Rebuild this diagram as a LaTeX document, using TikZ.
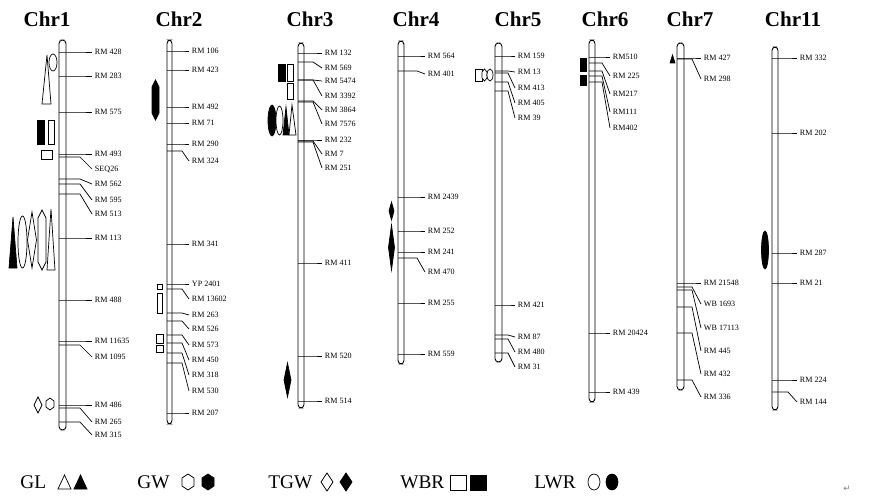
\documentclass[tikz,border=0pt]{standalone}
\usepackage{fontspec}
\setmainfont{Liberation Serif}
\newfontfamily\symfont{DejaVu Sans}
\usetikzlibrary{positioning,fit}

\begin{document}
\begin{tikzpicture}[
        x=0.02cm, y=-0.02cm,
        chrom/.style={draw, rounded corners=2pt, inner sep=0pt, line width=0.5pt},
        title/.style={font=\fontsize{12}{14}\selectfont\bfseries},
        mk/.style={line width=0.4pt},
        lab/.style={anchor=west, inner sep=1.5pt, font=\fontsize{4.6}{5}\selectfont},
        qo/.style={draw, fill=white, line width=0.4pt},
        qf/.style={draw, fill=black, line width=0.4pt},
        leg/.style={anchor=west, inner sep=0pt, font=\fontsize{11}{13}\selectfont}
    ]
        \useasboundingbox (0,0) rectangle (876,500);

        % Chr1
        \node[chrom, fit={(59,40) (66,430)}] (c1) {};
        \node[title] (t1) at (47,19) {Chr1};
        \foreach \a/\b/\t [count=\i] in {52/52/RM 428, 76/76/RM 283, 112/112/RM 575,
            154/154/RM 493, 157/169/SEQ26, 179/184/RM 562, 184/200/RM 595, 194/214/RM 513,
            238/238/RM 113, 300/300/RM 488, 341/341/RM 11635, 345/357/RM 1095,
            405/405/RM 486, 408/422/RM 265, 422/435/RM 315}
            \draw[mk] (59,\a) -- (80,\a) -- (92,\b) node[lab] (c1m\i) {\t};
        \draw[qo] (42,104) -- (47,55) -- (51,104) -- cycle;
        \draw[qo] (53,62.5) ellipse (4 and 8.5);
        \draw[qf] (37,120) rectangle (44,144);
        \draw[qo] (48,120) rectangle (54,144);
        \draw[qo] (41,150) rectangle (52,159);
        \draw[qf] (9,268) -- (13,217) -- (17,268) -- cycle;
        \draw[qo] (22.5,242) ellipse (4.5 and 26);
        \draw[qo] (32,212) -- (36.5,240) -- (32,268) -- (27.5,240) -- cycle;
        \draw[qo] (42,210) -- ++(4,8) -- ++(0,44) -- ++(-4,8) -- ++(-4,-8) -- ++(0,-44) -- cycle;
        \draw[qo] (51,209) -- (55,270) -- (47,270) -- cycle;
        \draw[qo] (38,397) -- (42,405) -- (38,413) -- (34,405) -- cycle;
        \draw[qo] (50,398) -- ++(4,3) -- ++(0,6) -- ++(-4,3) -- ++(-4,-3) -- ++(0,-6) -- cycle;

        % Chr2
        \node[chrom, fit={(167,40) (172,424)}] (c2) {};
        \node[title] (t2) at (179,19) {Chr2};
        \foreach \a/\b/\t [count=\i] in {51/51/RM 106, 70/70/RM 423, 107/107/RM 492,
            123/123/RM 71, 144/144/RM 290, 151/161/RM 324, 244/244/RM 341,
            284/284/YP 2401, 289/299/RM 13602, 313/315/RM 263, 321/329/RM 526,
            335/345/RM 573, 343/360/RM 450, 353/375/RM 318, 363/391/RM 530, 413/413/RM 207}
            \draw[mk] (167,\a) -- (182,\a) -- (189,\b) node[lab] (c2m\i) {\t};
        \draw[qf] (155.5,80) -- ++(3.5,7) -- ++(0,26) -- ++(-3.5,7) -- ++(-3.5,-7) -- ++(0,-26) -- cycle;
        \draw[qo] (157,284) rectangle (162,289);
        \draw[qo] (157,293) rectangle (162,313);
        \draw[qo] (156,334) rectangle (163,343);
        \draw[qo] (156,345) rectangle (163,352);

        % Chr3
        \node[chrom, fit={(298,43) (304,408)}] (c3) {};
        \node[title] (t3) at (310,19) {Chr3};
        \foreach \a/\b/\t [count=\i] in {53/53/RM 132, 62/68/RM 569, 80/81/RM 5474,
            80/96/RM 3392, 101/110/RM 3864, 102/124/RM 7576, 140/140/RM 232,
            141/154/RM 7, 142/168/RM 251, 263/263/RM 411, 356/356/RM 520, 401/401/RM 514}
            \draw[mk] (298,\a) -- (313,\a) -- (322,\b) node[lab] (c3m\i) {\t};
        \draw[qf] (278,64) rectangle (285,81);
        \draw[qo] (287,64) rectangle (293,81);
        \draw[qo] (287,83) rectangle (293,99);
        \draw[qf] (272,120.5) ellipse (4 and 15.5);
        \draw[qo] (279.5,120.5) ellipse (3.5 and 14.5);
        \draw[qf] (283,135) -- (286,107) -- (289,135) -- cycle;
        \draw[qo] (289,135) -- (292,105) -- (296,135) -- cycle;
        \draw[qf] (287.5,363) -- (291,380) -- (287.5,397) -- (284,380) -- cycle;

        % Chr4
        \node[chrom, fit={(398,41) (404,364)}] (c4) {};
        \node[title] (t4) at (416,19) {Chr4};
        \foreach \a/\b/\t [count=\i] in {56/56/RM 564, 71/74/RM 401, 197/197/RM 2439,
            231/231/RM 252, 252/252/RM 241, 258/272/RM 470, 303/303/RM 255, 354/354/RM 559}
            \draw[mk] (398,\a) -- (417,\a) -- (425,\b) node[lab] (c4m\i) {\t};
        \draw[qf] (391.5,202) -- (394,211) -- (391.5,220) -- (389,211) -- cycle;
        \draw[qf] (391.5,225) -- (394.5,247.5) -- (391.5,270) -- (388.5,247.5) -- cycle;

        % Chr5
        \node[chrom, fit={(495,43) (502,362)}] (c5) {};
        \node[title] (t5) at (518,19) {Chr5};
        \foreach \a/\b/\t [count=\i] in {56/56/RM 159, 71/72/RM 13, 73/88/RM 413,
            82/103/RM 405, 91/118/RM 39, 305/305/RM 421, 335/337/RM 87,
            339/352/RM 480, 353/367/RM 31}
            \draw[mk] (495,\a) -- (508,\a) -- (515,\b) node[lab] (c5m\i) {\t};
        \draw[qo] (475,69) rectangle (482,81);
        \draw[qo] (484.5,69) -- ++(2.5,3) -- ++(0,6) -- ++(-2.5,3) -- ++(-2.5,-3) -- ++(0,-6) -- cycle;
        \draw[qo] (490,75) ellipse (3 and 6);

        % Chr6
        \node[chrom, fit={(589,40) (595,402)}] (c6) {};
        \node[title] (t6) at (605,19) {Chr6};
        \foreach \a/\b/\t [count=\i] in {57/57/RM510, 63/76/RM 225, 71/94/RM217,
            76/112/RM111, 82/128/RM402, 333/333/RM 20424, 392/392/RM 439}
            \draw[mk] (589,\a) -- (602,\a) -- (610,\b) node[lab] (c6m\i) {\t};
        \draw[qf] (580,58) rectangle (586,71);
        \draw[qf] (580,75) rectangle (586,85);

        % Chr7
        \node[chrom, fit={(677,43) (684,390)}] (c7) {};
        \node[title] (t7) at (690,19) {Chr7};
        \foreach \a/\b/\t [count=\i] in {58/58/RM 427, 59/79/RM 298, 283/283/RM 21548,
            287/304/WB 1693, 290/328/WB 17113, 307/351/RM 445, 333/374/RM 432, 380/397/RM 336}
            \draw[mk] (677,\a) -- (692,\a) -- (701,\b) node[lab] (c7m\i) {\t};
        \draw[qf] (670,63) -- (672.5,55) -- (675,63) -- cycle;

        % Chr11
        \node[chrom, fit={(772,47) (778,410)}] (c11) {};
        \node[title] (t11) at (793,19) {Chr11};
        \foreach \a/\b/\t [count=\i] in {58/58/RM 332, 133/133/RM 202, 253/253/RM 287,
            283/283/RM 21, 380/380/RM 224, 392/402/RM 144}
            \draw[mk] (772,\a) -- (788,\a) -- (797,\b) node[lab] (c11m\i) {\t};
        \draw[qf] (765,250) ellipse (3.5 and 19);

        % Legend
        \node[leg] (gl) at (20,482) {GL};
        \draw[qo] (58,489) -- (64.5,475) -- (71,489) -- cycle;
        \draw[qf] (74,489) -- (80.5,475) -- (87,489) -- cycle;
        \node[leg] (gw) at (137,482) {GW};
        \draw[qo] (188,474) -- ++(6,4) -- ++(0,8) -- ++(-6,4) -- ++(-6,-4) -- ++(0,-8) -- cycle;
        \draw[qf] (208,474) -- ++(6,4) -- ++(0,8) -- ++(-6,4) -- ++(-6,-4) -- ++(0,-8) -- cycle;
        \node[leg] (tgw) at (268,482) {TGW};
        \draw[qo] (327,473) -- (333,482) -- (327,491) -- (321,482) -- cycle;
        \draw[qf] (346,473) -- (352,482) -- (346,491) -- (340,482) -- cycle;
        \node[leg] (wbr) at (400,482) {WBR};
        \draw[qo] (450,475) rectangle (466,490);
        \draw[qf] (470,475) rectangle (486,490);
        \node[leg] (lwr) at (534,482) {LWR};
        \draw[qo] (594,482) ellipse (6 and 8);
        \draw[qf] (612,482) ellipse (6 and 8);
        \node[font=\symfont\fontsize{5}{6}\selectfont, text=gray] (ret) at (847,489) {↵};
    \end{tikzpicture}
\end{document}
